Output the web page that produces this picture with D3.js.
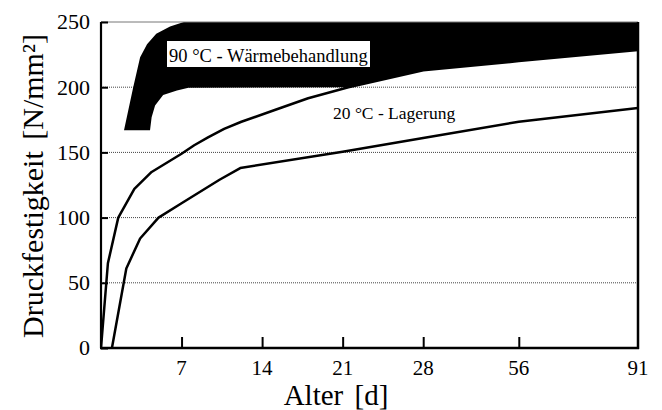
<!DOCTYPE html>
<html>
<head>
<meta charset="utf-8">
<script src="https://cdn.jsdelivr.net/npm/d3@7"></script>
<style>
  body { margin: 0; background: #fff; }
  text { font-family: "Liberation Serif", "DejaVu Serif", serif; fill: #000; }
</style>
</head>
<body>
<div id="chart"></div>
<script>
// tick values
var xTicks = [7, 14, 21, 28, 56, 91];
var yTicks = [0, 50, 100, 150, 200, 250];

// 20 C storage, upper curve  [day, N/mm2]
var upperDays   = [0, 0.6, 1.5, 2.9, 4.4, 7, 8.1, 9.3, 10.7, 12.2, 15.1, 18, 21.5, 28, 56, 91];
var upperValues = [0, 65, 100, 122, 135, 149, 155.5, 161.5, 168, 173.5, 182.5, 191.5, 200, 213, 220, 228.5];

// 20 C storage, lower curve
var lowerDays   = [0.95, 2.2, 3.4, 5, 7, 10.3, 12.1, 21, 28, 56, 91];
var lowerValues = [0, 61, 84, 100, 111, 129, 138, 150.5, 161, 173.5, 184];

// 90 C heat treatment, band limits
var bandTopDays   = [2, 2.8, 3.4, 4.0, 4.8, 6.0, 7, 8, 91];
var bandTopValues = [167, 200, 223, 233, 241, 246.5, 249.5, 252, 262];
var bandBotDays   = [2, 4.26, 4.4, 4.7, 5.4, 6.6, 7.6, 21.5, 28, 56, 91];
var bandBotValues = [167, 167, 177, 186, 194, 197.5, 199.5, 200, 213, 220, 228.5];

var labelHot  = "90 °C - Wärmebehandlung";
var labelCold = "20 °C - Lagerung";

var W = 662, H = 410;
var margin = {top: 22, right: 24, bottom: 62, left: 101};
var pLeft = margin.left, pRight = W - margin.right;
var pTop = margin.top, pBottom = H - margin.bottom;
var plotW = pRight - pLeft;

// piecewise time axis: linear up to 28 d, compressed afterwards
var x = d3.scaleLinear()
    .domain([0, 28, 56, 91])
    .range([pLeft, pLeft + plotW * 0.6, pLeft + plotW * 0.778, pRight]);
var y = d3.scaleLinear().domain([0, 250]).range([pBottom, pTop]);

function zipPts(ds, vs) {
    return ds.map(function(d, i) { return [d, vs[i]]; });
}

var svg = d3.select("#chart").append("svg")
    .attr("width", W)
    .attr("height", H);

svg.append("defs").append("clipPath").attr("id", "plotclip")
  .append("rect")
    .attr("x", pLeft).attr("y", pTop)
    .attr("width", plotW).attr("height", pBottom - pTop);

// dotted grid
svg.append("g").selectAll("line")
    .data(yTicks.filter(function(d) { return d > 0 && d < 250; }))
    .enter().append("line")
    .attr("x1", pLeft).attr("x2", pRight)
    .attr("y1", function(d) { return y(d); })
    .attr("y2", function(d) { return y(d); })
    .attr("stroke", "#444")
    .attr("stroke-width", 1)
    .attr("stroke-dasharray", "1,1");

var line = d3.line()
    .x(function(d) { return x(d[0]); })
    .y(function(d) { return y(d[1]); });

var plot = svg.append("g").attr("clip-path", "url(#plotclip)");

// band for heat treatment
var bandPts = zipPts(bandTopDays, bandTopValues)
    .concat(zipPts(bandBotDays, bandBotValues).reverse());
plot.append("path")
    .attr("d", line(bandPts) + "Z")
    .attr("fill", "#000");

plot.selectAll("path.curve")
    .data([zipPts(upperDays, upperValues), zipPts(lowerDays, lowerValues)])
    .enter().append("path")
    .attr("class", "curve")
    .attr("d", line)
    .attr("fill", "none")
    .attr("stroke", "#000")
    .attr("stroke-width", 2.5)
    .attr("stroke-linejoin", "round");

// frame
svg.append("line")
    .attr("x1", pLeft).attr("x2", pRight).attr("y1", pTop).attr("y2", pTop)
    .attr("stroke", "#777").attr("stroke-width", 1);
svg.append("line")
    .attr("x1", pLeft).attr("x2", pLeft).attr("y1", pTop).attr("y2", pBottom)
    .attr("stroke", "#000").attr("stroke-width", 2.2);
svg.append("line")
    .attr("x1", pRight).attr("x2", pRight).attr("y1", pTop).attr("y2", pBottom + 1)
    .attr("stroke", "#000").attr("stroke-width", 2.5);
svg.append("line")
    .attr("x1", pLeft - 1).attr("x2", pRight + 1).attr("y1", pBottom).attr("y2", pBottom)
    .attr("stroke", "#000").attr("stroke-width", 2.5);

// y axis
var yAxis = svg.append("g")
    .attr("transform", "translate(" + pLeft + ",0)")
    .call(d3.axisRight(y).tickValues(yTicks).tickSize(7).tickFormat(""));
yAxis.select(".domain").remove();
yAxis.selectAll(".tick line").attr("stroke", "#000").attr("stroke-width", 2);

svg.append("g").selectAll("text")
    .data(yTicks).enter().append("text")
    .attr("x", 90)
    .attr("y", function(d) { return y(d); })
    .attr("dy", "0.34em")
    .attr("text-anchor", "end")
    .style("font-size", "22px")
    .text(function(d) { return d; });

// x axis
var xAxis = svg.append("g")
    .attr("transform", "translate(0," + pBottom + ")")
    .call(d3.axisTop(x).tickValues(xTicks.filter(function(d) { return d < 91; }))
        .tickSize(11).tickFormat(""));
xAxis.select(".domain").remove();
xAxis.selectAll(".tick line").attr("stroke", "#000").attr("stroke-width", 2);

svg.append("g").selectAll("text")
    .data(xTicks).enter().append("text")
    .attr("x", function(d) { return x(d); })
    .attr("y", 375)
    .attr("text-anchor", "middle")
    .style("font-size", "21px")
    .text(function(d) { return d; });

// axis titles
svg.append("text")
    .attr("x", 336).attr("y", 405)
    .attr("text-anchor", "middle")
    .style("font-size", "29px")
    .style("word-spacing", "4px")
    .text("Alter [d]");

svg.append("text")
    .attr("transform", "translate(43,186) rotate(-90)")
    .attr("text-anchor", "middle")
    .style("font-size", "30px")
    .style("word-spacing", "4px")
    .text("Druckfestigkeit [N/mm²]");

// labels
svg.append("rect")
    .attr("x", 167).attr("y", 41)
    .attr("width", 203).attr("height", 26)
    .attr("fill", "#fff");
svg.append("text")
    .attr("x", 169).attr("y", 62)
    .style("font-size", "18.5px")
    .text(labelHot);

svg.append("text")
    .attr("x", 333).attr("y", 119)
    .style("font-size", "17.5px")
    .text(labelCold);
</script>
</body>
</html>
